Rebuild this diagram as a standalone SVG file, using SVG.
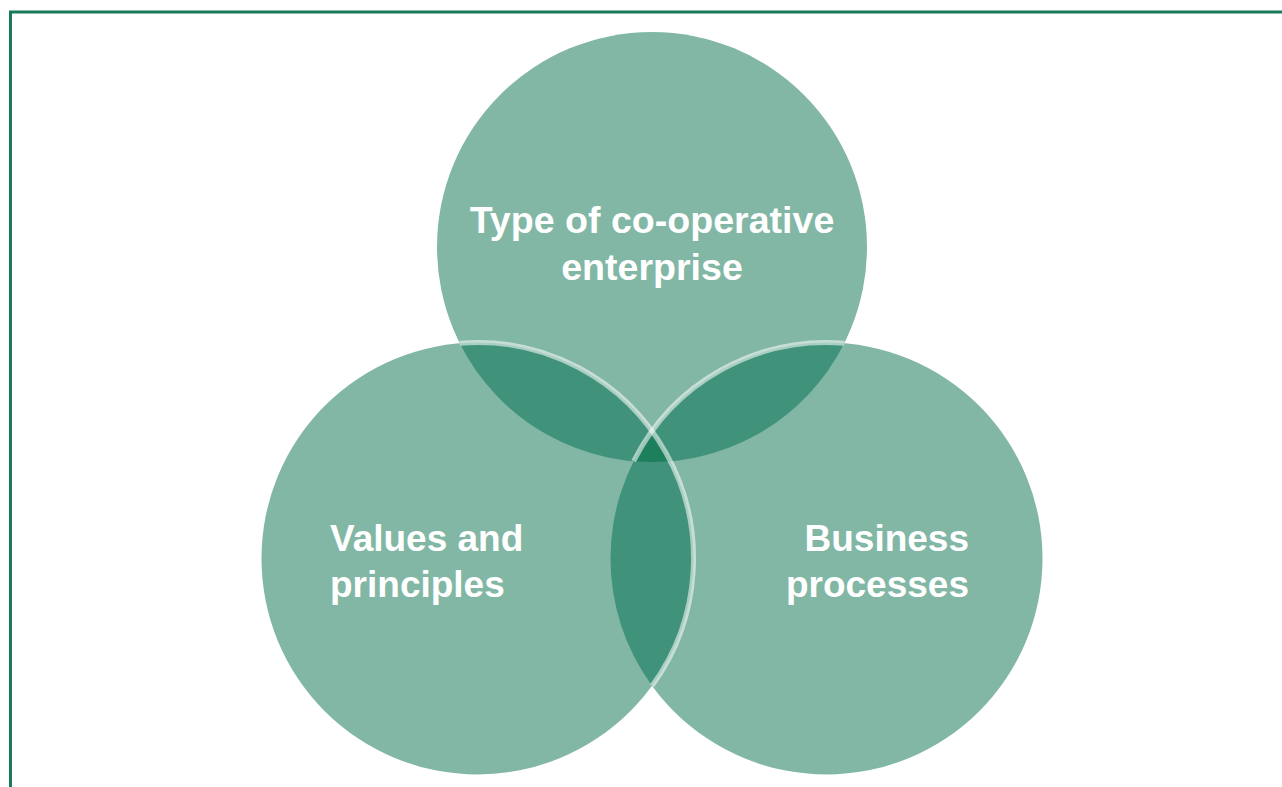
<svg xmlns="http://www.w3.org/2000/svg" width="1282" height="787" viewBox="0 0 1282 787">
  <style>
    .circle { fill: #82B7A5; }
    .lens { fill: #40937A; }
    .core { fill: #1E7F5C; }
    .ring { fill: none; stroke: #FFFFFF; stroke-opacity: 0.55; stroke-width: 5; }
    .label { fill: #FFFFFF; font-family: "Liberation Sans", Arial, Helvetica, sans-serif; font-weight: bold; font-size: 37px; }
    .label-top { font-size: 37.6px; }
  </style>
  <rect x="0" y="0" width="1282" height="787" fill="#FFFFFF"/>
  <rect id="frame" x="10.5" y="12" width="1300" height="800" fill="none" stroke="#177A5A" stroke-width="3"/>

  <g id="node-type">
    <circle class="circle" cx="652" cy="247" r="215"/>
  </g>
  <g id="node-values">
    <circle class="circle" cx="477.5" cy="558.5" r="216"/>
  </g>
  <g id="node-business">
    <circle class="circle" cx="826.5" cy="558.5" r="216"/>
  </g>

  <g id="overlaps">
    <path class="lens" d="M 459.75,343.2 A 215 215 0 0 0 670.35,461.2 A 216 216 0 0 0 459.75,343.2 Z"/>
    <path class="lens" d="M 844.25,343.2 A 215 215 0 0 1 633.65,461.2 A 216 216 0 0 1 844.25,343.2 Z"/>
    <path class="lens" d="M 652,431.2 A 216 216 0 0 1 652,685.8 A 216 216 0 0 1 652,431.2 Z"/>
    <path class="core" d="M 652,431.2 A 216 216 0 0 1 670.35,461.2 A 215 215 0 0 1 633.65,461.2 A 216 216 0 0 1 652,431.2 Z"/>
  </g>

  <g id="rings">
    <path class="ring" d="M 844.25,343.2 A 216 216 0 0 0 633.65,461.2"/>
    <path class="ring" d="M 459.75,343.2 A 216 216 0 0 1 652,685.8"/>
  </g>

  <g id="connectors"></g>

  <g id="labels">
    <text class="label label-top" x="652" y="233" text-anchor="middle">Type of co-operative</text>
    <text class="label label-top" x="652" y="280" text-anchor="middle">enterprise</text>
    <text class="label" x="330" y="551">Values and</text>
    <text class="label" x="330" y="597">principles</text>
    <text class="label" x="969" y="551" text-anchor="end">Business</text>
    <text class="label" x="969" y="597" text-anchor="end">processes</text>
  </g>
</svg>
